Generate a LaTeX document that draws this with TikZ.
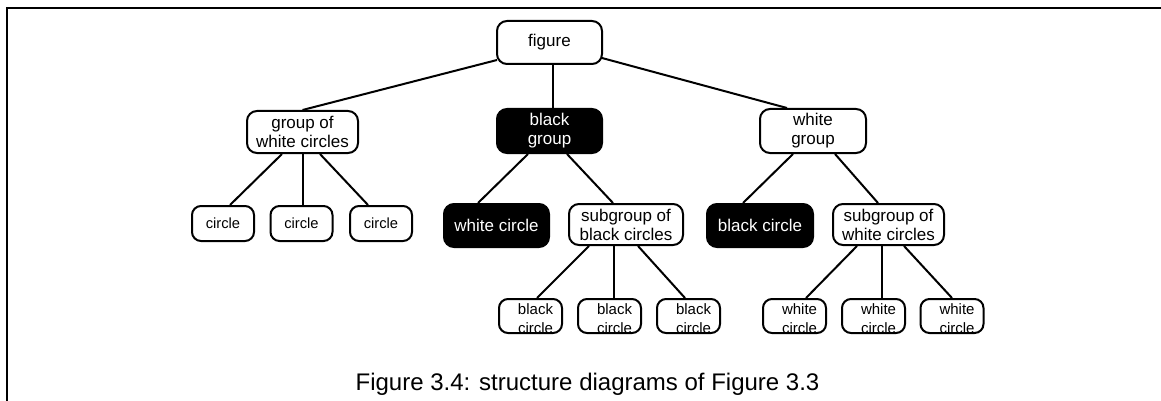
\documentclass[tikz,border=0pt]{standalone}
\usepackage{fontspec}
\setmainfont{Liberation Sans}
\usetikzlibrary{calc}
\begin{document}
\begin{tikzpicture}[x=1pt,y=-1pt,
  box/.style={draw, line width=2pt, rounded corners=10pt, fill=white, inner sep=0pt,
    align=center, font=\fontsize{17}{19}\selectfont, text=black},
  blackbox/.style={box, fill=black, text=white},
  smallbox/.style={box, font=\fontsize{14.7}{17}\selectfont, minimum width=62pt, minimum height=35pt, rounded corners=9pt},
  leaf/.style={box, minimum width=63pt, minimum height=34pt, rounded corners=9pt, label={[leaftext]center:#1}},
  leaftext/.style={align=center, font=\fontsize{15}{19}\selectfont, text=black, xshift=5pt, yshift=-3pt, inner sep=0pt},
  link/.style={line width=2pt},
  frame/.style={line width=2pt}]
\useasboundingbox (0,0) rectangle (1161,401);
\draw[frame] (7.3,402) -- (7.3,8.3) -- (1162,8.3);

% nodes
\node[box, minimum width=105pt, minimum height=43pt] (fig) at (549.5,42.5) {figure};
\node[blackbox, minimum width=105pt, minimum height=44pt] (bg) at (549.5,131) {black\\group};
\node[box, minimum width=111pt, minimum height=42pt] (gwc) at (302.5,132) {group of\\white circles};
\node[box, minimum width=106pt, minimum height=44pt] (wg) at (813,131) {white\\group};
\node[smallbox] (c1) at (223,223.5) {circle};
\node[smallbox] (c2) at (301.5,223.5) {circle};
\node[smallbox] (c3) at (381,223.5) {circle};
\node[blackbox, minimum width=105pt, minimum height=43pt] (wc) at (496.5,225.5) {white circle};
\node[box, minimum width=114pt, minimum height=41pt] (sgb) at (626,224.5) {subgroup of\\black circles};
\node[blackbox, minimum width=106pt, minimum height=43pt] (bc) at (760,225.5) {black circle};
\node[box, minimum width=111pt, minimum height=41pt] (sgw) at (888.5,224.5) {subgroup of\\white circles};
\node[leaf={black\\circle}] (l1) at (530.5,316) {};
\node[leaf={black\\circle}] (l2) at (609.5,316) {};
\node[leaf={black\\circle}] (l3) at (688.5,316) {};
\node[leaf={white\\circle}] (w1) at (794.5,316) {};
\node[leaf={white\\circle}] (w2) at (873.5,316) {};
\node[leaf={white\\circle}] (w3) at (952,316) {};

% connectors
\draw[link] ($(fig.west)+(1,17.5)$) -- (gwc.north);
\draw[link] ($(fig.south)+(3,0)$) -- ($(bg.north)+(3,0)$);
\draw[link] ($(fig.east)+(-1,15.5)$) -- ($(wg.north)+(-26,0)$);
\draw[link] ($(gwc.south)+(-20.5,0)$) -- ($(c1.north)+(7,0)$);
\draw[link] ($(gwc.south)+(0.2,0)$) -- ($(c2.north)+(1.2,0)$);
\draw[link] ($(gwc.south)+(17.5,0)$) -- ($(c3.north)+(-13,0)$);
\draw[link] ($(bg.south)+(-21.5,0)$) -- ($(wc.north)+(-18.5,0)$);
\draw[link] ($(bg.south)+(17.5,0)$) -- ($(sgb.north)+(-13,0)$);
\draw[link] ($(wg.south)+(-20,0)$) -- ($(bc.north)+(-17,0)$);
\draw[link] ($(wg.south)+(22,0)$) -- ($(sgw.north)+(-10.5,0)$);
\draw[link] ($(sgb.south)+(-37,0)$) -- ($(l1.north)+(6.5,0)$);
\draw[link] ($(sgb.south)+(-12,0)$) -- ($(l2.north)+(4.5,0)$);
\draw[link] ($(sgb.south)+(12,0)$) -- ($(l3.north)+(-3.5,0)$);
\draw[link] ($(sgw.south)+(-31.5,0)$) -- ($(w1.north)+(11.5,0)$);
\draw[link] ($(sgw.south)+(-6.5,0)$) -- ($(w2.north)+(8.5,0)$);
\draw[link] ($(sgw.south)+(15.5,0)$) -- ($(w3.north)+(0,0)$);

\node[anchor=base, font=\fontsize{24}{28}\selectfont, text=black] (cap) at (587.5,390.7) {Figure 3.4: structure diagrams of Figure 3.3};
\end{tikzpicture}
\end{document}
